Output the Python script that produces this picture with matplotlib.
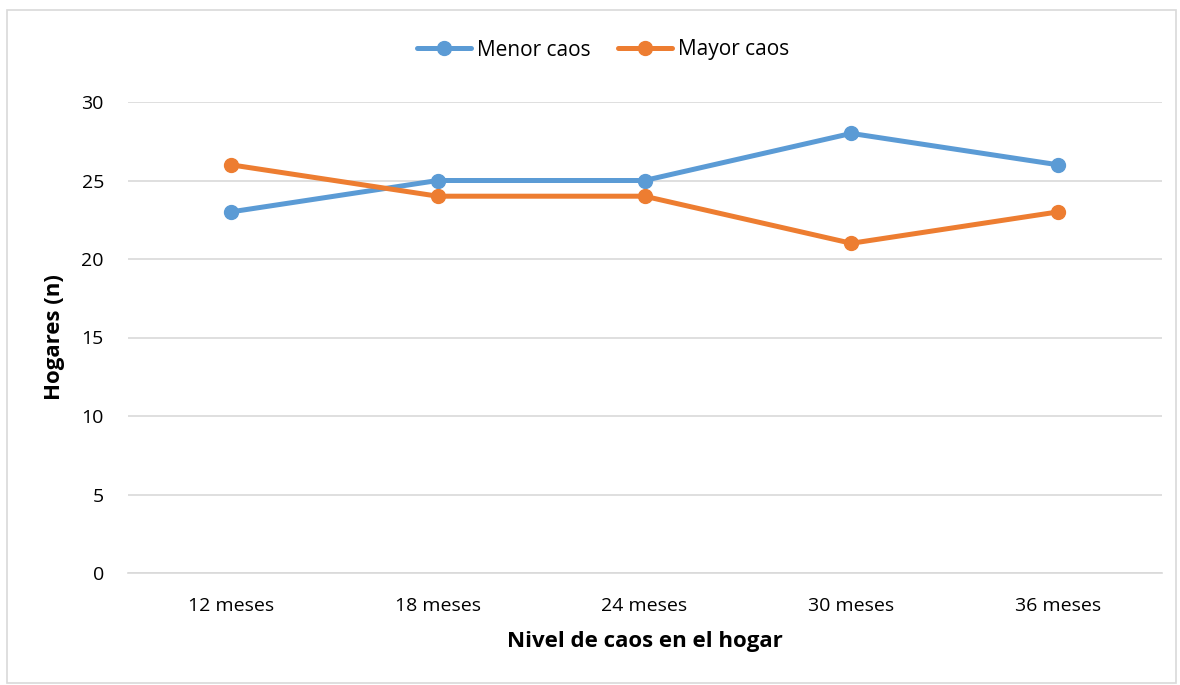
import matplotlib
matplotlib.use("Agg")
import matplotlib.pyplot as plt
from matplotlib.patches import Rectangle

categories = ["12 meses", "18 meses", "24 meses", "30 meses", "36 meses"]
menor_caos = [23, 25, 25, 28, 26]
mayor_caos = [26, 24, 24, 21, 23]
yticks = [0, 5, 10, 15, 20, 25, 30]

plt.rcParams['font.family'] = ['Open Sans', 'DejaVu Sans']

W, H = 1180, 685
fig = plt.figure(figsize=(W / 100, H / 100), dpi=100)
fig.patch.set_facecolor("white")

# outer border
fig.patches.append(Rectangle((7 / W, 2 / H), (1176 - 7) / W, (675 - 2) / H,
                             transform=fig.transFigure, fill=False,
                             edgecolor="#D9D9D9", linewidth=1.2))

left, right = 127.5, 1161.5
top, bottom = 102, 573
ax = fig.add_axes([left / W, 1 - bottom / H, (right - left) / W, (bottom - top) / H])

x = list(range(len(categories)))
blue = "#5B9BD5"
orange = "#ED7D31"
ax.plot(x, menor_caos, color=blue, lw=3.6, marker="o", ms=10, label="Menor caos",
        solid_capstyle="round", zorder=3)
ax.plot(x, mayor_caos, color=orange, lw=3.6, marker="o", ms=10, label="Mayor caos",
        solid_capstyle="round", zorder=3)

ax.set_xlim(-0.5, len(categories) - 0.5)
ax.set_ylim(0, 30)
ax.set_yticks(yticks)
ax.set_xticks(x)
ax.set_xticklabels(categories)
ax.yaxis.grid(True, color="#D9D9D9", lw=1.2)
ax.set_axisbelow(True)
for s in ["top", "right", "left"]:
    ax.spines[s].set_visible(False)
ax.spines["bottom"].set_color("#D9D9D9")
ax.spines["bottom"].set_linewidth(1.2)
ax.tick_params(axis="both", length=0, labelsize=14, colors="#000000")
ax.tick_params(axis="y", pad=17)
ax.tick_params(axis="x", pad=17)

ax.set_xlabel("Nivel de caos en el hogar", fontsize=16, fontweight="bold", labelpad=12)
ax.set_ylabel("Hogares (n)", fontsize=16, fontweight="bold", labelpad=12)

leg = fig.legend(loc="center", bbox_to_anchor=(603 / W, 1 - 50 / H), ncol=2,
                 frameon=False, fontsize=15, handlelength=2.6, columnspacing=1.3,
                 handletextpad=0.3)

fig.savefig("out.png", dpi=100)
